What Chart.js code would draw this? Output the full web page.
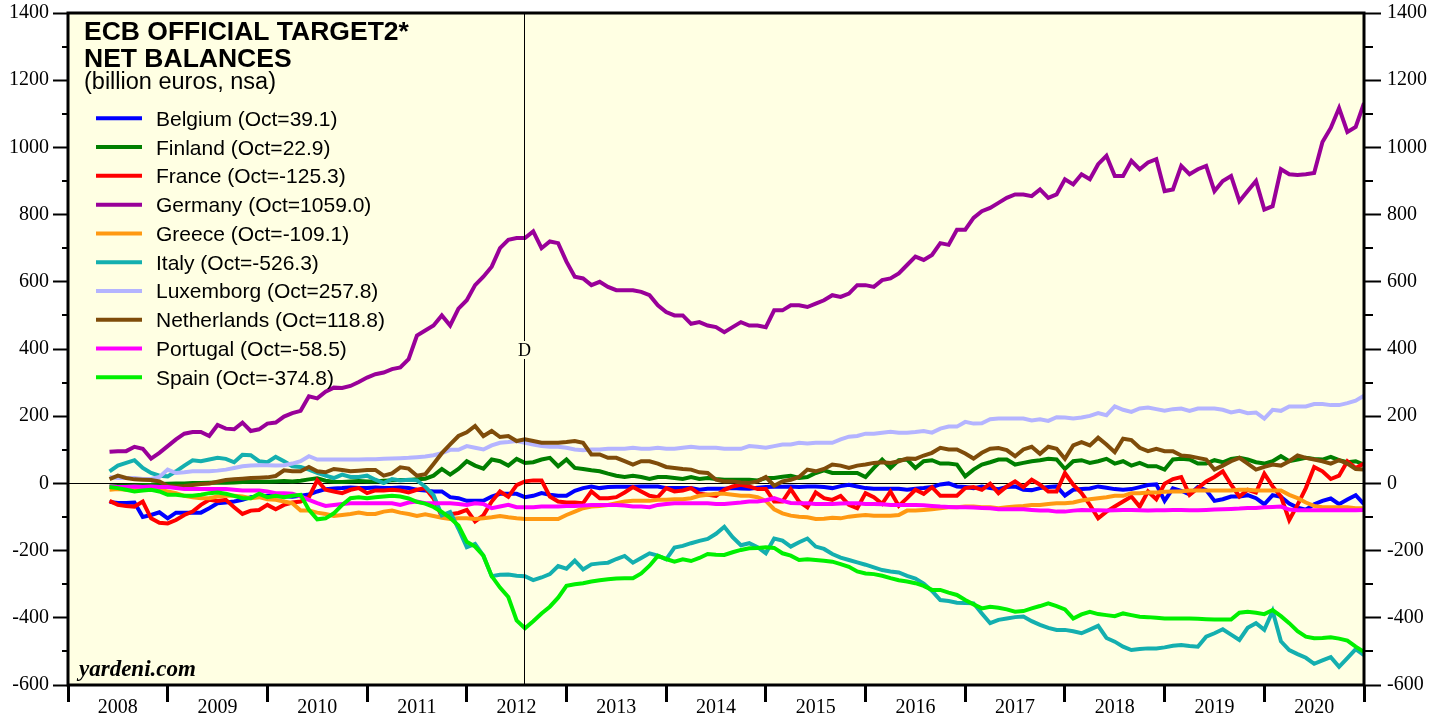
<!DOCTYPE html>
<html>
<head>
<meta charset="utf-8">
<script src="https://cdn.jsdelivr.net/npm/chart.js@4.4.0/dist/chart.umd.min.js"></script>
<style>
  html, body { margin: 0; padding: 0; background: #fff; }
</style>
</head>
<body>
<canvas id="myChart" width="1446" height="719"></canvas>
<script>
// ECB Target2 net balances, billion euros, monthly from Jun 2008 to Jan 2021

const startYear = 2008;
const startMonth = 6;          // first value is June 2008, one value per month after that
const yearTicks = [2008, 2009, 2010, 2011, 2012, 2013, 2014, 2015, 2016, 2017, 2018, 2019, 2020, 2021];
const yMin = -600, yMax = 1400;
const dLine = 2012.57;         // vertical "D" marker (Jul 2012)
const dLabelValue = 400;

const countries = ['Belgium', 'Finland', 'France', 'Germany', 'Greece', 'Italy', 'Luxemborg', 'Netherlands', 'Portugal', 'Spain'];
const octValues = ['39.1', '22.9', '-125.3', '1059.0', '-109.1', '-526.3', '257.8', '118.8', '-58.5', '-374.8'];
const colors = ['#0000FF', '#007F00', '#FF0000', '#990099', '#FF9912', '#14AFAF', '#B4B4FF', '#7F4C0A', '#FF00FF', '#00F000'];

const belgium = [
  -55, -58, -58, -57, -100, -94, -86,                                 // 2008
  -104, -87, -87, -87, -87, -74, -59, -57, -54, -49, -41, -39,        // 2009
  -37, -38, -38, -40, -37, -33, -24, -17, -15, -14, -12, -14,         // 2010
  -14, -12, -14, -14, -12, -14, -19, -21, -24, -24, -41, -44,         // 2011
  -52, -52, -52, -39, -31, -31, -31, -41, -37, -29, -34, -37,         // 2012
  -37, -22, -14, -9, -14, -11, -10, -10, -10, -9, -9, -9,             // 2013
  -14, -14, -14, -14, -19, -16, -16, -16, -14, -15, -16, -13,         // 2014
  -11, -10, -10, -9, -11, -9, -9, -11, -14, -8, -4, -9,               // 2015
  -14, -16, -16, -16, -16, -19, -16, -14, -11, -3, 0, -9,             // 2016
  -11, -14, -9, -14, -17, -11, -9, -19, -20, -14, -11, -9,            // 2017
  -36, -19, -17, -15, -9, -13, -17, -19, -17, -11, -5, -3,            // 2018
  -52, -15, -22, -33, -11, -20, -52, -47, -39, -39, -35, -44,         // 2019
  -62, -35, -40, -60, -72, -78, -62, -52, -45, -62, -48, -35,         // 2020
  -62                                                                 // 2021
];
const finland = [
  -9, -8, -7, -6, -5, -4, -2,
  -1, 0, 0, 1, 1, 2, 3, 2, 3, 4, 5, 5,
  5, 6, 7, 6, 8, 12, 15, 8, 5, 4, 6, 7,
  6, 6, 8, 9, 10, 10, 12, 14, 23, 43, 26, 43,
  66, 53, 44, 71, 66, 53, 73, 61, 63, 71, 76, 51,
  71, 46, 43, 39, 36, 29, 23, 19, 23, 19, 13, 19,
  19, 16, 13, 19, 13, 16, 13, 11, 11, 11, 11, 9,
  16, 16, 20, 23, 16, 19, 31, 39, 31, 31, 31, 31,
  19, 46, 71, 46, 69, 71, 46, 66, 69, 59, 59, 56,
  21, 41, 56, 63, 71, 71, 56, 61, 66, 69, 73, 71,
  43, 66, 69, 61, 66, 73, 59, 66, 53, 61, 51, 51,
  41, 71, 73, 71, 59, 59, 69, 63, 73, 76, 71, 63,
  59, 66, 81, 66, 71, 76, 73, 71, 79, 69, 63, 66,
  56
];
const france = [
  -52, -64, -67, -69, -54, -104, -117,
  -119, -109, -94, -84, -64, -49, -52, -49, -71, -91, -81, -79,
  -64, -77, -64, -57, -54, -41, 9, -19, -24, -29, -19, -14,
  -29, -21, -21, -19, -21, -27, -19, -14, -45, -99, -92, -88,
  -79, -113, -95, -54, -24, -40, -5, 6, 9, 9, -39, -54,
  -57, -57, -59, -24, -44, -44, -41, -27, -11, -24, -37, -41,
  -14, -24, -21, -14, -31, -34, -37, -19, -9, -4, -9, -17,
  -17, -54, -54, -17, -54, -71, -27, -44, -49, -37, -64, -74,
  -29, -41, -61, -24, -67, -44, -19, -31, -11, -37, -37, -37,
  -14, -11, -19, -1, -29, -9, 6, -11, 11, -4, -24, -24,
  31, -4, -29, -64, -104, -84, -69, -54, -39, -69, -24, -47,
  -1, 13, 19, -34, -14, 6, 19, 36, -4, -39, -19, -27,
  29, -9, -39, -109, -64, -14, 49, 36, 13, 23, 66, 46,
  59
];
const germany = [
  94, 96, 96, 109, 103, 74, 91,
  111, 131, 148, 153, 153, 141, 174, 163, 161, 181, 156, 161,
  178, 181, 199, 209, 216, 259, 253, 273, 285, 284, 290, 302,
  315, 325, 330, 340, 345, 370, 440, 455, 470, 500, 470, 520,
  545, 590, 615, 645, 700, 725, 730, 730, 750, 700, 720, 715,
  660, 615, 610, 590, 600, 585, 575, 575, 575, 570, 560, 530,
  510, 500, 500, 475, 480, 470, 465, 450, 465, 480, 470, 470,
  465, 515, 515, 530, 530, 525, 535, 545, 560, 555, 565, 590,
  590, 585, 605, 610, 625, 650, 675, 665, 680, 715, 710, 755,
  755, 790, 810, 820, 835, 850, 860, 860, 855, 875, 850, 860,
  905, 890, 920, 905, 950, 975, 915, 915, 960, 935, 955, 965,
  870, 875, 945, 920, 935, 945, 870, 900, 915, 840, 870, 900,
  815, 825, 935, 920, 918, 920, 924, 1016, 1058, 1117, 1046, 1061,
  1132
];
const greece = [
  -19, -17, -19, -17, -17, -17, -19,
  -24, -29, -37, -41, -44, -44, -39, -37, -37, -39, -44, -41,
  -47, -49, -54, -59, -81, -81, -87, -91, -97, -94, -91, -87,
  -91, -91, -84, -81, -87, -91, -97, -92, -97, -102, -106, -104,
  -104, -106, -104, -101, -97, -101, -104, -106, -106, -106, -106, -106,
  -94, -84, -74, -69, -67, -64, -59, -54, -52, -52, -52, -49,
  -49, -47, -47, -44, -37, -34, -31, -31, -34, -37, -37, -41,
  -52, -77, -89, -96, -99, -101, -106, -105, -102, -104, -99, -96,
  -94, -96, -96, -96, -94, -81, -81, -79, -77, -74, -71, -71,
  -69, -69, -71, -71, -74, -71, -69, -67, -64, -64, -61, -59,
  -59, -57, -51, -47, -44, -41, -37, -37, -29, -29, -27, -27,
  -25, -24, -24, -21, -21, -21, -21, -21, -21, -19, -19, -21,
  -21, -21, -21, -34, -44, -57, -67, -71, -71, -71, -71, -74,
  -74
];
const italy = [
  36, 53, 61, 69, 46, 31, 23,
  21, 36, 53, 69, 66, 71, 76, 73, 63, 85, 84, 66,
  63, 79, 66, 51, 49, 41, 31, 23, 16, 26, 19, 19,
  23, 11, 1, 13, 9, 11, 9, -10, -35, -95, -85, -135,
  -190, -180, -215, -276, -272, -271, -275, -276, -288, -280, -270, -246,
  -254, -230, -256, -241, -238, -236, -225, -216, -236, -222, -208, -215,
  -226, -191, -186, -178, -171, -165, -150, -129, -160, -184, -178, -190,
  -208, -164, -170, -188, -175, -164, -188, -195, -210, -221, -228, -235,
  -242, -250, -258, -262, -265, -275, -283, -298, -320, -347, -350, -355,
  -356, -357, -387, -416, -406, -402, -398, -396, -410, -421, -430, -436,
  -436, -440, -446, -435, -424, -460, -471, -486, -496, -493, -491, -491,
  -488, -483, -481, -484, -486, -456, -446, -434, -450, -466, -430, -416,
  -436, -380, -470, -496, -508, -519, -537, -527, -517, -546, -520, -493,
  -511
];
const luxembourg = [
  19, 16, 16, 16, 13, 13, 19,
  41, 31, 33, 36, 36, 36, 38, 41, 46, 51, 53, 54,
  54, 53, 54, 59, 66, 81, 71, 71, 71, 71, 71, 71,
  72, 72, 73, 74, 75, 76, 78, 80, 84, 90, 100, 100,
  111, 106, 101, 113, 121, 123, 126, 121, 116, 111, 109, 109,
  106, 101, 99, 101, 101, 103, 103, 103, 106, 103, 103, 106,
  103, 103, 106, 109, 106, 106, 106, 103, 103, 103, 111, 109,
  106, 111, 116, 116, 121, 119, 121, 121, 121, 131, 139, 141,
  148, 148, 151, 154, 151, 151, 153, 156, 151, 163, 169, 169,
  183, 178, 179, 191, 193, 193, 193, 193, 187, 191, 186, 197,
  196, 193, 196, 201, 209, 203, 229, 219, 213, 223, 226, 221,
  216, 221, 223, 216, 223, 223, 223, 219, 211, 216, 209, 211,
  193, 219, 216, 229, 229, 229, 236, 236, 233, 233, 239, 246,
  261
];
const netherlands = [
  13, 23, 16, 12, 11, 10, 6,
  -8, -9, -8, -5, -2, 0, 5, 10, 12, 14, 16, 17,
  18, 22, 39, 36, 36, 49, 36, 33, 43, 40, 36, 38,
  40, 40, 23, 30, 48, 44, 23, 27, 58, 90, 116, 141,
  152, 171, 141, 156, 138, 141, 126, 131, 126, 121, 121, 121,
  123, 126, 121, 86, 86, 76, 76, 66, 56, 66, 66, 59,
  49, 46, 43, 41, 33, 31, 11, 6, 6, 3, 1, 6,
  19, -7, 6, 11, 19, 41, 36, 43, 56, 53, 46, 53,
  56, 61, 63, 61, 66, 74, 73, 83, 91, 106, 101, 101,
  89, 74, 91, 103, 105, 99, 81, 101, 109, 88, 109, 103,
  73, 113, 123, 113, 136, 116, 93, 133, 129, 106, 96, 103,
  96, 96, 83, 81, 76, 71, 41, 53, 66, 76, 59, 41,
  49, 56, 53, 66, 83, 76, 71, 66, 59, 69, 59, 43,
  41
];
const portugal = [
  -9, -11, -11, -9, -11, -9, -11,
  -11, -14, -17, -17, -17, -17, -17, -17, -19, -21, -21, -21,
  -24, -29, -29, -31, -39, -49, -59, -67, -64, -61, -59, -59,
  -59, -59, -59, -59, -64, -57, -54, -59, -59, -59, -59, -61,
  -64, -59, -61, -74, -69, -64, -71, -71, -71, -69, -69, -69,
  -67, -67, -66, -64, -64, -64, -64, -66, -69, -69, -71, -64,
  -61, -59, -59, -59, -59, -59, -61, -61, -59, -57, -54, -54,
  -50, -44, -52, -58, -59, -59, -61, -61, -61, -60, -59, -59,
  -61, -61, -62, -64, -64, -64, -64, -65, -67, -69, -70, -71,
  -71, -72, -73, -74, -77, -77, -77, -77, -79, -81, -81, -84,
  -84, -81, -79, -80, -80, -81, -80, -79, -79, -80, -81, -80,
  -80, -79, -79, -80, -80, -79, -78, -77, -76, -75, -73, -73,
  -71, -70, -69, -78, -80, -80, -80, -80, -80, -80, -80, -80,
  -79
];
const spain = [
  -11, -14, -19, -24, -21, -19, -24,
  -34, -34, -37, -37, -34, -29, -27, -31, -37, -44, -44, -31,
  -41, -37, -41, -37, -34, -79, -107, -104, -89, -64, -44, -41,
  -44, -41, -39, -37, -39, -45, -55, -60, -70, -85, -103, -125,
  -174, -188, -215, -276, -310, -338, -408, -431, -410, -387, -367, -340,
  -305, -300, -297, -292, -288, -285, -283, -282, -282, -268, -245, -216,
  -225, -233, -226, -231, -222, -210, -212, -213, -205, -198, -193, -192,
  -190, -192, -208, -215, -228, -226, -228, -230, -233, -240, -248, -262,
  -268, -270, -275, -282, -288, -292, -297, -305, -317, -317, -325, -332,
  -347, -360, -372, -367, -370, -375, -382, -380, -372, -365, -357, -365,
  -375, -402, -390, -382, -389, -392, -395, -387, -392, -397, -398, -400,
  -402, -402, -402, -402, -403, -404, -405, -405, -405, -385, -382, -385,
  -389, -377, -395, -416, -440, -456, -461, -460, -458, -462, -468, -486,
  -501
];

const series = [belgium, finland, france, germany, greece, italy, luxembourg, netherlands, portugal, spain];

const plotBg = '#FFFFE3';

// month index -> decimal year on the x axis
function toPoints(values){
    return values.map((v, i) => ({ x: startYear + (startMonth - 1 + i) / 12, y: v }));
}

const datasets = series.map((values, k) => ({
    label: countries[k] + ' (Oct=' + octValues[k] + ')',
    data: toPoints(values),
    borderColor: colors[k],
    backgroundColor: colors[k],
    borderWidth: 4,
    pointRadius: 0,
    tension: 0,
    order: series.length - k     // later countries drawn on top
}));

// frame, title, legend, D marker, minor ticks
const decorations = {
    id: 'decorations',
    beforeDraw(chart){
        const {ctx, chartArea: a} = chart;
        ctx.save();
        ctx.fillStyle = plotBg;
        ctx.fillRect(a.left, a.top, a.right - a.left, a.bottom - a.top);
        ctx.restore();
    },
    afterDatasetsDraw(chart){
        const {ctx, chartArea: a, scales} = chart;
        const x = scales.x, y = scales.y;
        ctx.save();

        // D line
        const dx = Math.round(x.getPixelForValue(dLine)) + 0.5;
        ctx.strokeStyle = '#000';
        ctx.lineWidth = 1;
        ctx.beginPath();
        ctx.moveTo(dx, a.top);
        ctx.lineTo(dx, a.bottom);
        ctx.stroke();
        ctx.font = '18px "Liberation Serif"';
        const dy = y.getPixelForValue(dLabelValue);
        const dw = ctx.measureText('D').width;
        ctx.fillStyle = plotBg;
        ctx.fillRect(dx - dw / 2 - 1, dy - 8, dw + 2, 18);
        ctx.fillStyle = '#000';
        ctx.textAlign = 'center';
        ctx.textBaseline = 'middle';
        ctx.fillText('D', dx, dy + 2);

        // minor ticks on both y axes
        ctx.lineWidth = 2;
        for (let v = yMin + 100; v < yMax; v += 200){
            const py = Math.round(y.getPixelForValue(v));
            ctx.beginPath();
            ctx.moveTo(a.left - 6, py); ctx.lineTo(a.left, py);
            ctx.moveTo(a.right, py); ctx.lineTo(a.right + 9, py);
            ctx.stroke();
        }

        // frame
        ctx.lineWidth = 3;
        ctx.strokeRect(a.left, a.top, a.right - a.left, a.bottom - a.top);

        // title block
        ctx.textAlign = 'left';
        ctx.textBaseline = 'alphabetic';
        ctx.fillStyle = '#000';
        ctx.font = 'bold 26.5px "Liberation Sans"';
        ctx.fillText('ECB OFFICIAL TARGET2*', 84, 40);
        ctx.fillText('NET BALANCES', 84, 67);
        ctx.font = '23.5px "Liberation Sans"';
        ctx.fillText('(billion euros, nsa)', 84, 89);

        // legend
        ctx.font = '21px "Liberation Sans"';
        chart.data.datasets.forEach((ds, k) => {
            const ly = 118.3 + k * 28.78;
            ctx.strokeStyle = ds.borderColor;
            ctx.lineWidth = 4;
            ctx.beginPath();
            ctx.moveTo(96, ly); ctx.lineTo(142, ly);
            ctx.stroke();
            ctx.fillStyle = '#000';
            ctx.fillText(ds.label, 156, ly + 7.5);
        });

        // source
        ctx.font = 'italic bold 23px "Liberation Serif"';
        ctx.fillText('yardeni.com', 79, 676);
        ctx.restore();
    }
};

// y axes keep no extra padding so the plot top sits at the layout padding
function fitY(width){
    return scale => {
        scale.width = width;
        scale.paddingTop = 0;
        scale.paddingBottom = 0;
    };
}

const yAxisBase = {
    type: 'linear',
    min: yMin,
    max: yMax,
    afterBuildTicks: scale => {
        const t = [];
        for (let v = yMin; v <= yMax; v += 100) t.push({ value: v });
        scale.ticks = t;
    },
    border: { display: false },
    ticks: {
        autoSkip: false,
        color: '#000',
        font: { family: 'Liberation Serif', size: 20 },
        callback: v => (v % 200 === 0 ? String(v) : '')
    }
};

const ctx = document.getElementById('myChart');

const myChart = new Chart(ctx, {
    type: 'line',
    data: { datasets: datasets },
    options: {
        responsive: false,
        animation: false,
        layout: { padding: { top: 13, left: 0, right: 0, bottom: 0 } },
        scales: {
            x: {
                type: 'linear',
                position: 'bottom',
                min: yearTicks[0],
                max: yearTicks[yearTicks.length - 1],
                afterBuildTicks: scale => {
                    const t = [];
                    yearTicks.forEach((yr, i) => {
                        t.push({ value: yr });
                        if (i < yearTicks.length - 1) t.push({ value: yr + 0.5 });
                    });
                    scale.ticks = t;
                },
                afterFit: scale => {
                    scale.height = 34;
                    scale.paddingLeft = 0;
                    scale.paddingRight = 0;
                },
                border: { display: false },
                grid: {
                    drawOnChartArea: false,
                    tickLength: 17,
                    tickWidth: 3,
                    tickColor: c => (Number.isInteger(c.tick.value) ? '#000' : 'rgba(0,0,0,0)')
                },
                ticks: {
                    autoSkip: false,
                    maxRotation: 0,
                    padding: -6,
                    color: '#000',
                    font: { family: 'Liberation Serif', size: 20 },
                    callback: v => (Number.isInteger(v) ? '' : String(Math.floor(v)))
                }
            },
            y: Object.assign({}, yAxisBase, {
                position: 'left',
                afterFit: fitY(68),
                grid: {
                    drawOnChartArea: true,
                    color: c => (c.tick.value === 0 ? '#000' : 'rgba(0,0,0,0)'),
                    lineWidth: 1,
                    tickLength: 15,
                    tickWidth: 2,
                    tickColor: c => (c.tick.value % 200 === 0 ? '#000' : 'rgba(0,0,0,0)')
                },
                ticks: Object.assign({}, yAxisBase.ticks, { padding: 4 })
            }),
            yR: Object.assign({}, yAxisBase, {
                position: 'right',
                afterFit: fitY(82),
                grid: {
                    drawOnChartArea: false,
                    tickLength: 17,
                    tickWidth: 2,
                    tickColor: c => (c.tick.value % 200 === 0 ? '#000' : 'rgba(0,0,0,0)')
                },
                ticks: Object.assign({}, yAxisBase.ticks, { padding: 6 })
            })
        },
        plugins: {
            legend: { display: false },
            tooltip: { enabled: false }
        }
    },
    plugins: [decorations]
});
</script>
</body>
</html>
